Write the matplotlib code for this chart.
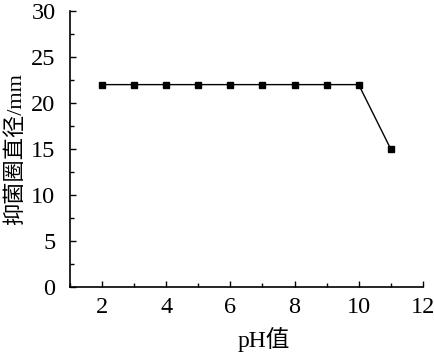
import matplotlib
matplotlib.use("Agg")
import matplotlib.pyplot as plt
from matplotlib.ticker import MultipleLocator

ph = [2, 3, 4, 5, 6, 7, 8, 9, 10, 11]
diameter = [22, 22, 22, 22, 22, 22, 22, 22, 22, 15]

fam = ['Liberation Serif', 'Noto Sans CJK SC']
plt.rcParams['font.family'] = fam

fig = plt.figure(figsize=(4.35, 3.55), dpi=100)
ax = fig.add_axes([0.161, 0.1915, 0.811, 0.7775])
ax.plot(ph, diameter, color='black', lw=1.0, marker='s', markersize=5,
        markerfacecolor='black', markeredgecolor='black')
ax.set_xlim(1, 12)
ax.set_ylim(0, 30)
ax.xaxis.set_major_locator(MultipleLocator(2))
ax.xaxis.set_minor_locator(MultipleLocator(1))
ax.yaxis.set_major_locator(MultipleLocator(5))
ax.yaxis.set_minor_locator(MultipleLocator(2.5))
ax.set_xticks([2, 4, 6, 8, 10, 12])
ax.spines['top'].set_visible(False)
ax.spines['right'].set_visible(False)
for s in ['left', 'bottom']:
    ax.spines[s].set_linewidth(1.2)
ax.tick_params(which='both', direction='in', width=1.0, labelsize=17.5)
ax.tick_params(which='major', length=4)
ax.tick_params(which='minor', length=3)
ax.tick_params(axis='x', pad=7)
ax.tick_params(axis='y', pad=10.5)
ax.set_xlabel('pH值', fontsize=17)
ax.set_ylabel('抑菌圈直径/mm', fontsize=16)
ax.xaxis.set_label_coords(0.55, -0.145)
ax.yaxis.set_label_coords(-0.125, 0.5)
fig.savefig('out.png', dpi=100)
